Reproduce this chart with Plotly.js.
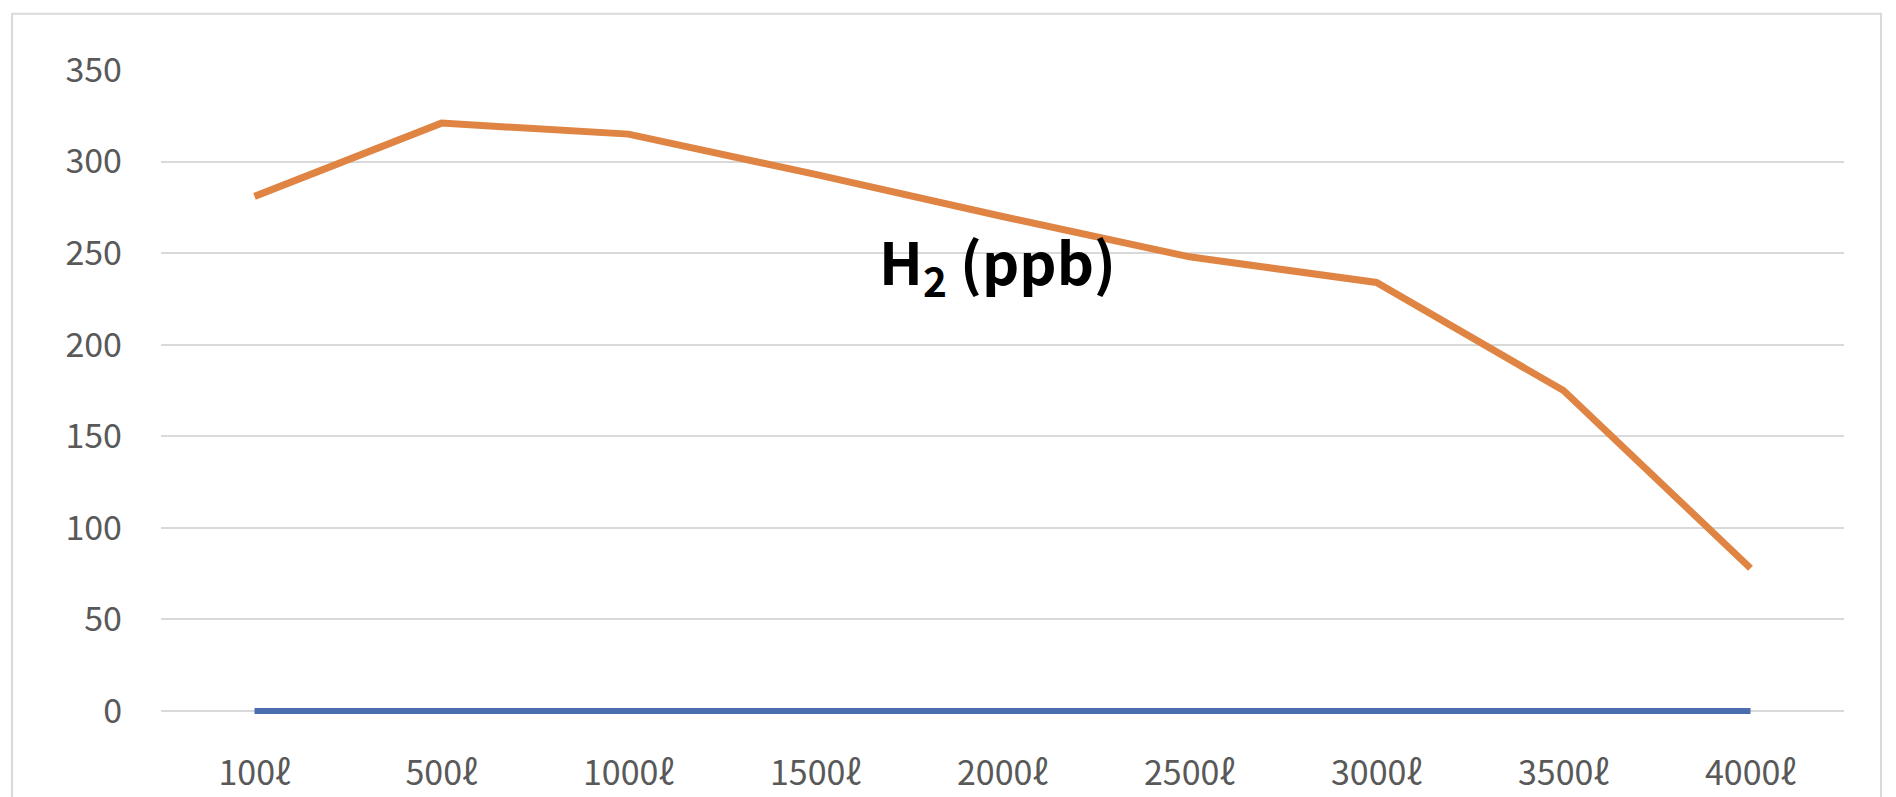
<!DOCTYPE html>
<html>
<head>
<meta charset="utf-8">
<script src="https://cdn.plot.ly/plotly-3.0.1.min.js"></script>
<style>html,body{margin:0;padding:0;background:#fff;}#chart{width:1896px;height:797px;}</style>
</head>
<body>
<div id="chart"></div>
<script>
const categories = ["100ℓ","500ℓ","1000ℓ","1500ℓ","2000ℓ","2500ℓ","3000ℓ","3500ℓ","4000ℓ"];
const h2Values = [281, 321, 315, 293, 270, 248, 234, 175, 78];
const baseValues = [0, 0, 0, 0, 0, 0, 0, 0, 0];
const yTicks = [0, 50, 100, 150, 200, 250, 300, 350];
const labelText = "H<sub>2</sub> (ppb)";

const traces = [
  {x: categories, y: baseValues, type: "scatter", mode: "lines",
   line: {color: "#4A6DB0", width: 6}, hoverinfo: "none"},
  {x: categories, y: h2Values, type: "scatter", mode: "lines",
   line: {color: "#DF8443", width: 7}, hoverinfo: "none"}
];

const tickFont = {family: "Noto Sans CJK KR, Noto Sans, sans-serif", size: 34, color: "#595959"};

const layout = {
  width: 1896, height: 797,
  margin: {l: 161, r: 52, t: 70, b: 81},
  paper_bgcolor: "#ffffff", plot_bgcolor: "#ffffff",
  showlegend: false,
  xaxis: {
    type: "category", range: [-0.5, categories.length - 0.5],
    showgrid: false, zeroline: false, showline: false,
    ticks: "", tickfont: tickFont, ticklabelstandoff: 34, fixedrange: true
  },
  yaxis: {
    range: [-2.7, 350], tickvals: yTicks, showgrid: true, gridcolor: "#d9d9d9", gridwidth: 2,
    zeroline: false, showline: false, ticks: "", tickfont: tickFont,
    ticklabelstandoff: 38, fixedrange: true
  },
  annotations: [{
    text: labelText, xref: "paper", yref: "paper", x: 0.497, y: 0.70,
    xanchor: "center", yanchor: "middle", showarrow: false,
    font: {family: "Noto Sans CJK KR, Noto Sans, sans-serif", size: 58, color: "#000000", weight: 700}
  }],
  shapes: [{
    type: "rect", xref: "paper", yref: "paper",
    x0: -0.0885, x1: 1.022, y0: -0.3, y1: 1.087,
    line: {color: "#d9d9d9", width: 2}, fillcolor: "rgba(0,0,0,0)", layer: "below"
  }]
};

Plotly.newPlot("chart", traces, layout, {displayModeBar: false, staticPlot: true});
</script>
</body>
</html>
